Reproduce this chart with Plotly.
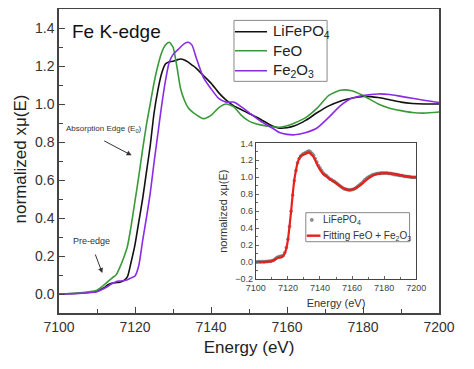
import plotly.graph_objects as go

# ---------------- main panel data ----------------
energy = [7100, 7105, 7110, 7112, 7113, 7114, 7115, 7116, 7117, 7118, 7119, 7120,
          7121, 7122, 7123, 7124, 7125, 7126, 7127, 7128, 7129, 7130, 7131, 7132,
          7133, 7134, 7135, 7136, 7138, 7140, 7142, 7144, 7146, 7148, 7150, 7153,
          7156, 7158, 7160, 7162, 7165, 7168, 7171, 7174, 7177, 7180, 7184, 7187,
          7190, 7193, 7196, 7200]

lifepo4 = [0.0, 0.004, 0.015, 0.035, 0.05, 0.058, 0.06, 0.062, 0.07, 0.09, 0.17, 0.26,
           0.38, 0.50, 0.64, 0.78, 0.95, 1.07, 1.16, 1.21, 1.222, 1.225, 1.232, 1.237,
           1.232, 1.22, 1.205, 1.19, 1.15, 1.11, 1.06, 1.02, 0.99, 0.97, 0.95, 0.92,
           0.885, 0.873, 0.875, 0.885, 0.915, 0.955, 0.99, 1.015, 1.03, 1.04, 1.034, 1.022,
           1.01, 1.003, 1.0, 1.0]

feo = [0.0, 0.005, 0.02, 0.05, 0.068, 0.085, 0.10, 0.14, 0.19, 0.25, 0.36, 0.49,
       0.62, 0.76, 0.89, 1.0, 1.11, 1.20, 1.27, 1.31, 1.325, 1.30, 1.20, 1.08,
       1.02, 0.98, 0.96, 0.945, 0.923, 0.94, 0.98, 1.0, 0.985, 0.94, 0.91, 0.89,
       0.88, 0.878, 0.885, 0.90, 0.93, 0.98, 1.045, 1.072, 1.07, 1.045, 1.0, 0.978,
       0.965, 0.955, 0.952, 0.958]

fe2o3 = [0.0, 0.003, 0.012, 0.03, 0.042, 0.055, 0.065, 0.068, 0.07, 0.075, 0.085, 0.095,
         0.15, 0.28, 0.40, 0.53, 0.69, 0.84, 0.99, 1.12, 1.22, 1.26, 1.28, 1.30,
         1.318, 1.325, 1.31, 1.25, 1.14, 1.08, 1.03, 1.01, 1.01, 0.985, 0.955, 0.91,
         0.875, 0.85, 0.84, 0.838, 0.85, 0.875, 0.93, 0.99, 1.03, 1.045, 1.053, 1.05,
         1.04, 1.03, 1.02, 1.008]

# ---------------- inset data ----------------
inset_energy = list(range(7100, 7201))
inset_measured = [0.0, 0.0, 0.005, 0.0, 0.005, 0.0, 0.005, 0.005, 0.01, 0.01,
                  0.015, 0.02, 0.035, 0.05, 0.06, 0.065, 0.07, 0.075, 0.11, 0.17,
                  0.27, 0.42, 0.60, 0.79, 0.96, 1.08, 1.17, 1.22, 1.25, 1.27,
                  1.28, 1.29, 1.30, 1.31, 1.30, 1.28, 1.26, 1.22, 1.18, 1.14,
                  1.11, 1.08, 1.05, 1.03, 1.02, 1.0, 0.98, 0.975, 0.96, 0.95,
                  0.935, 0.92, 0.905, 0.89, 0.875, 0.865, 0.86, 0.855, 0.85, 0.85,
                  0.855, 0.86, 0.87, 0.885, 0.90, 0.915, 0.93, 0.95, 0.97, 0.985,
                  1.0, 1.01, 1.02, 1.03, 1.035, 1.04, 1.045, 1.045, 1.05, 1.05,
                  1.05, 1.05, 1.05, 1.045, 1.045, 1.04, 1.035, 1.03, 1.03, 1.025,
                  1.02, 1.02, 1.015, 1.01, 1.01, 1.005, 1.005, 1.0, 1.0, 1.0,
                  1.0]

fit_energy = [7100, 7104, 7108, 7110, 7112, 7114, 7116, 7118, 7119, 7120, 7121, 7122,
              7123, 7124, 7125, 7126, 7127, 7128, 7130, 7132, 7133, 7134, 7136, 7138,
              7140, 7142, 7144, 7147, 7150, 7153, 7156, 7158, 7160, 7163, 7166, 7169,
              7172, 7175, 7178, 7181, 7184, 7187, 7190, 7193, 7196, 7200]
fit_values = [0.0, 0.0, 0.005, 0.01, 0.03, 0.05, 0.055, 0.10, 0.16, 0.26, 0.42, 0.60,
              0.80, 0.97, 1.08, 1.17, 1.22, 1.25, 1.27, 1.285, 1.29, 1.28, 1.24, 1.16,
              1.09, 1.04, 1.01, 0.97, 0.93, 0.89, 0.86, 0.85, 0.855, 0.88, 0.92, 0.97,
              1.01, 1.035, 1.045, 1.05, 1.045, 1.04, 1.025, 1.015, 1.005, 1.0]

main_xticks = [7100, 7120, 7140, 7160, 7180, 7200]
main_yticks = [0.0, 0.2, 0.4, 0.6, 0.8, 1.0, 1.2, 1.4]
inset_yticks = [-0.2, 0.0, 0.2, 0.4, 0.6, 0.8, 1.0, 1.2, 1.4]

series_names = ["LiFePO<sub>4</sub>", "FeO", "Fe<sub>2</sub>O<sub>3</sub>"]
inset_names = ["LiFePO<sub>4</sub>", "Fitting FeO + Fe<sub>2</sub>O<sub>3</sub>"]

FONT = "Arial, Liberation Sans, sans-serif"
BLACK = "#111111"
GREEN = "#3a9a3a"
PURPLE = "#8a2be8"
GRAY_PT = "rgba(110,110,110,0.7)"
RED = "#e8201c"
series_colors = [BLACK, GREEN, PURPLE]

fig = go.Figure()

for ys, nm, col in zip([lifepo4, feo, fe2o3], series_names, series_colors):
    fig.add_trace(go.Scatter(x=energy, y=ys, mode="lines", name=nm, showlegend=False,
                             line=dict(color=col, width=1.6, shape="spline", smoothing=0.6)))

fig.add_trace(go.Scatter(x=inset_energy, y=inset_measured, mode="markers", name=inset_names[0],
                         marker=dict(color=GRAY_PT, size=3, symbol="circle",
                                     line=dict(color="rgba(80,80,80,0.8)", width=0.5)),
                         xaxis="x2", yaxis="y2", showlegend=False))
fig.add_trace(go.Scatter(x=fit_energy, y=fit_values, mode="lines", name=inset_names[1],
                         line=dict(color=RED, width=2.2, shape="spline", smoothing=0.6),
                         xaxis="x2", yaxis="y2", showlegend=False))

axis_common = dict(showline=True, mirror=True, linecolor="#444444", ticks="inside",
                   showgrid=False, zeroline=False, automargin=False)

# The page body adds an 8px offset, so margins are shifted by 8px up/left.
fig.update_layout(
    width=474, height=369,
    margin=dict(l=51, r=43, t=1, b=64),
    paper_bgcolor="white", plot_bgcolor="white",
    font=dict(family=FONT, color="#222222"),
    showlegend=False,
    xaxis=dict(domain=[0, 1], range=[7100, 7200], tickvals=main_xticks,
               ticklen=6, tickwidth=1, tickcolor="#444444", linewidth=1.5,
               minor=dict(dtick=10, ticklen=4, ticks="inside", tickcolor="#444444"),
               tickfont=dict(size=14, color="#333333"),
               title=dict(text="Energy (eV)", font=dict(size=17, color="#222222"), standoff=8),
               **axis_common),
    yaxis=dict(domain=[0, 1], range=[-0.1, 1.5], tickvals=main_yticks, tickformat=".1f",
               ticklen=6, tickwidth=1, tickcolor="#444444", linewidth=1.5,
               minor=dict(dtick=0.1, ticklen=4, ticks="inside", tickcolor="#444444"),
               tickfont=dict(size=14, color="#333333"),
               **axis_common),
    xaxis2=dict(domain=[0.518, 0.940], anchor="y2", range=[7100, 7200], tickvals=main_xticks,
                ticklen=3, tickcolor="#666666", linewidth=1,
                minor=dict(dtick=10, ticklen=2, ticks="inside", tickcolor="#666666"),
                tickfont=dict(size=9, color="#444444"),
                title=dict(text="Energy (eV)", font=dict(size=11, color="#333333"), standoff=7),
                **axis_common),
    yaxis2=dict(domain=[0.112, 0.558], anchor="x2", range=[-0.2, 1.4], tickvals=inset_yticks,
                tickformat=".1f", ticklen=3, tickcolor="#666666", linewidth=1,
                minor=dict(dtick=0.1, ticklen=2, ticks="inside", tickcolor="#666666"),
                tickfont=dict(size=9, color="#444444"),
                title=dict(text="normalized xμ(E)", font=dict(size=11, color="#333333"), standoff=5),
                **axis_common),
)

# main y-axis title (placed explicitly so it is not squeezed to the page edge)
fig.add_annotation(text="normalized xμ(E)", xref="paper", yref="paper", x=-0.102, y=0.506,
                   textangle=-90, xanchor="center", yanchor="middle", showarrow=False,
                   font=dict(size=17, color="#222222"))

# ---- main legend (framed box) ----
fig.add_shape(type="rect", xref="paper", yref="paper", x0=0.4605, x1=0.7055, y0=0.762, y1=0.9625,
              line=dict(color="#888888", width=1), fillcolor="white", layer="above")
for i, (nm, col) in enumerate(zip(series_names, series_colors)):
    yy = [0.9253, 0.8628, 0.7970][i]
    fig.add_shape(type="line", xref="paper", yref="paper", x0=0.4631, x1=0.5474, y0=yy, y1=yy,
                  line=dict(color=col, width=1.6), layer="above")
    fig.add_annotation(text=nm, xref="paper", yref="paper", x=0.5580, y=yy,
                       xanchor="left", yanchor="middle", showarrow=False,
                       font=dict(size=15, color="#222222"))

# ---- inset legend (framed box) ----
fig.add_shape(type="rect", xref="paper", yref="paper", x0=0.6495, x1=0.9225, y0=0.2345, y1=0.330,
              line=dict(color="#888888", width=1), fillcolor="white", layer="above")
fig.add_shape(type="circle", xref="paper", yref="paper", x0=0.6612, x1=0.6692, y0=0.3013, y1=0.3113,
              line=dict(color="rgba(80,80,80,0.8)", width=0.6), fillcolor=GRAY_PT, layer="above")
fig.add_shape(type="line", xref="paper", yref="paper", x0=0.652, x1=0.688, y0=0.2543, y1=0.2543,
              line=dict(color=RED, width=2.4), layer="above")
fig.add_annotation(text=inset_names[0], xref="paper", yref="paper", x=0.690, y=0.3069,
                   xanchor="left", yanchor="middle", showarrow=False,
                   font=dict(size=10, color="#333333"))
fig.add_annotation(text=inset_names[1], xref="paper", yref="paper", x=0.690, y=0.2543,
                   xanchor="left", yanchor="middle", showarrow=False,
                   font=dict(size=10, color="#333333"))

fig.add_annotation(text="Fe K-edge", xref="paper", yref="paper", x=0.030, y=0.925,
                   xanchor="left", yanchor="middle", showarrow=False,
                   font=dict(size=19, color="#111111"))

fig.add_annotation(text="Absorption Edge (E<sub>0</sub>)", xref="paper", yref="paper",
                   x=0.012, y=0.606, xanchor="left", yanchor="middle", showarrow=False,
                   font=dict(size=8, color="#333333"))
fig.add_annotation(text="", x=7119.1, y=0.73, ax=7111.5, ay=0.81, xref="x", yref="y",
                   axref="x", ayref="y", showarrow=True, arrowhead=2, arrowsize=1,
                   arrowwidth=1, arrowcolor="#333333")

fig.add_annotation(text="Pre-edge", xref="paper", yref="paper",
                   x=0.032, y=0.236, xanchor="left", yanchor="middle", showarrow=False,
                   font=dict(size=9, color="#333333"))
fig.add_annotation(text="", x=7111.4, y=0.11, ax=7109.4, ay=0.216, xref="x", yref="y",
                   axref="x", ayref="y", showarrow=True, arrowhead=2, arrowsize=1,
                   arrowwidth=1, arrowcolor="#333333")

fig.write_html("out.html")
